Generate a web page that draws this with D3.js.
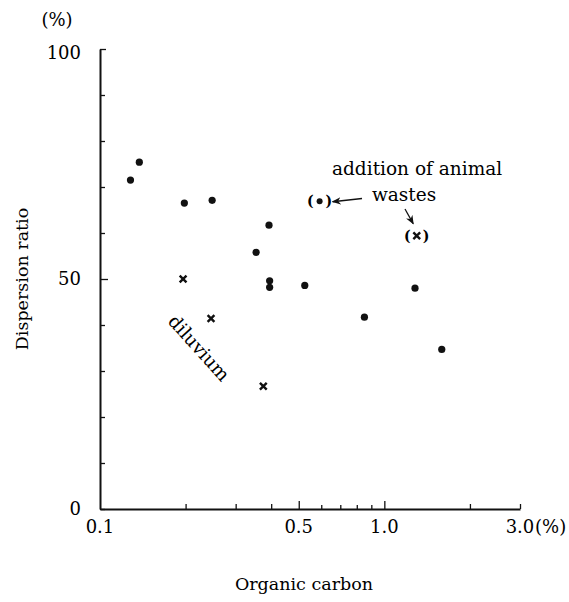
<!DOCTYPE html>
<html>
<head>
<meta charset="utf-8">
<script src="https://cdn.jsdelivr.net/npm/d3@7"></script>
<style>
  body { margin: 0; background: #fff; }
  svg text { font-family: "DejaVu Serif", serif; fill: #000; }
</style>
</head>
<body>
<div id="chart"></div>
<script>
'use strict';

// soil samples (dots)
var dotCarbon = [0.128, 0.1375, 0.198, 0.248, 0.393, 0.354, 0.395, 0.395, 0.525, 0.851, 1.282, 1.592];
var dotRatio  = [71.5, 75.4, 66.5, 67.1, 61.7, 55.8, 49.6, 48.2, 48.6, 41.7, 48.0, 34.7];

// diluvium samples (crosses)
var crossCarbon = [0.196, 0.2457, 0.3753];
var crossRatio  = [50.0, 41.4, 26.7];

// samples with animal waste added (bracketed)
var wasteCarbon = [0.592, 1.30];
var wasteRatio  = [66.9, 59.4];
var wasteKind   = ['dot', 'cross'];

var xMinorTicks = [0.2, 0.3, 0.4, 0.5, 0.6, 0.7, 0.8, 0.9, 1.0, 2.0, 3.0];
var xLabelValues = [0.1, 0.5, 1.0, 3.0];
var xLabelText   = ['0.1', '0.5', '1.0', '3.0'];
var yTickValues  = [0, 10, 20, 30, 40, 50, 60, 70, 80, 90, 100];
var yLabelValues = [0, 50, 100];

var width = 569, height = 602;

var svg = d3.select('#chart').append('svg')
  .attr('width', width)
  .attr('height', height);

svg.append('rect').attr('width', width).attr('height', height).attr('fill', '#fff');

var x = d3.scaleLog().domain([0.1, 3.0]).range([100, 520]);
var y = d3.scaleLinear().domain([0, 100]).range([509, 49]);

// tick length by value
function xTickLen(v) {
  if (v === 0.5 || v === 1.0) return 8;
  if (v < 0.5 || v >= 2.0) return 5;
  return 4;
}

var xAxis = d3.axisBottom(x).tickValues(xMinorTicks).tickFormat('').tickSizeInner(-5).tickSizeOuter(0);
var gx = svg.append('g')
  .attr('transform', 'translate(0,' + y(0) + ')')
  .call(xAxis);
gx.select('.domain').attr('stroke', '#111').attr('stroke-width', 2);
gx.selectAll('.tick line')
  .attr('stroke', '#111').attr('stroke-width', 1.3)
  .attr('y2', function(d) { return -xTickLen(d); });

var yAxis = d3.axisRight(y).tickValues(yTickValues).tickFormat('').tickSizeInner(5).tickSizeOuter(0);
var gy = svg.append('g')
  .attr('transform', 'translate(' + x(0.1) + ',0)')
  .call(yAxis);
gy.select('.domain').attr('stroke', '#111').attr('stroke-width', 2);
gy.selectAll('.tick line')
  .attr('stroke', '#111').attr('stroke-width', 1.3)
  .attr('x2', function(d) { return d === 50 ? 8 : (d === 100 ? 6 : 5); });

// tick labels
svg.append('g').selectAll('text')
  .data(yLabelValues)
  .enter().append('text')
    .attr('x', 81)
    .attr('y', function(d) { return y(d) + (d === 100 ? 10 : 6); })
    .attr('text-anchor', 'end')
    .style('font-size', '18px')
    .text(function(d) { return d; });

svg.append('text')
  .attr('x', 57).attr('y', 26)
  .attr('text-anchor', 'middle')
  .style('font-size', '18px')
  .text('(%)');

svg.append('g').selectAll('text')
  .data(xLabelValues)
  .enter().append('text')
    .attr('x', function(d) { return x(d); })
    .attr('y', 533)
    .attr('text-anchor', 'middle')
    .style('font-size', '18px')
    .text(function(d, i) { return xLabelText[i]; });

svg.append('text')
  .attr('x', x(3.0) + 15).attr('y', 533)
  .style('font-size', '18px')
  .text('(%)');

// axis titles
svg.append('text')
  .attr('x', 304).attr('y', 590)
  .attr('text-anchor', 'middle')
  .style('font-size', '17.5px')
  .text('Organic carbon');

svg.append('text')
  .attr('transform', 'translate(28,279) rotate(-90)')
  .attr('text-anchor', 'middle')
  .style('font-size', '17.5px')
  .text('Dispersion ratio');

// marks
function drawCross(g, cx, cy) {
  var s = 3.4;
  g.append('path')
    .attr('d', 'M' + (cx - s) + ',' + (cy - s) + 'L' + (cx + s) + ',' + (cy + s) +
               'M' + (cx + s) + ',' + (cy - s) + 'L' + (cx - s) + ',' + (cy + s))
    .attr('stroke', '#111').attr('stroke-width', 2.4).attr('fill', 'none');
}

var marks = svg.append('g');

marks.selectAll('circle.dot')
  .data(dotCarbon)
  .enter().append('circle')
    .attr('class', 'dot')
    .attr('cx', function(d) { return x(d); })
    .attr('cy', function(d, i) { return y(dotRatio[i]); })
    .attr('r', 3.6)
    .attr('fill', '#111');

crossCarbon.forEach(function(c, i) {
  drawCross(marks, x(c), y(crossRatio[i]));
});

wasteCarbon.forEach(function(c, i) {
  var cx = x(c), cy = y(wasteRatio[i]);
  if (wasteKind[i] === 'dot') {
    marks.append('circle').attr('cx', cx).attr('cy', cy).attr('r', 3).attr('fill', '#111');
  } else {
    drawCross(marks, cx, cy);
  }
  marks.append('text').attr('x', cx - 6).attr('y', cy + 5)
    .attr('text-anchor', 'end').style('font-size', '14px').style('font-weight', 'bold').text('(');
  marks.append('text').attr('x', cx + 6).attr('y', cy + 5)
    .attr('text-anchor', 'start').style('font-size', '14px').style('font-weight', 'bold').text(')');
});

// annotation
svg.append('defs').append('marker')
  .attr('id', 'arrow')
  .attr('viewBox', '0 0 10 10')
  .attr('refX', 9).attr('refY', 5)
  .attr('markerWidth', 7).attr('markerHeight', 7)
  .attr('orient', 'auto')
  .append('path')
    .attr('d', 'M0,1L10,5L0,9L3,5Z')
    .attr('fill', '#111');

svg.append('text')
  .attr('x', 332).attr('y', 175)
  .style('font-size', '18.5px')
  .text('addition of animal');

svg.append('text')
  .attr('x', 372).attr('y', 201)
  .style('font-size', '18.5px')
  .text('wastes');

svg.append('line')
  .attr('x1', 362).attr('y1', 198.5)
  .attr('x2', x(wasteCarbon[0]) + 13).attr('y2', y(wasteRatio[0]) + 0.5)
  .attr('stroke', '#111').attr('stroke-width', 1.3)
  .attr('marker-end', 'url(#arrow)');

svg.append('line')
  .attr('x1', 405).attr('y1', 209)
  .attr('x2', x(wasteCarbon[1]) - 3.5).attr('y2', y(wasteRatio[1]) - 12)
  .attr('stroke', '#111').attr('stroke-width', 1.3)
  .attr('marker-end', 'url(#arrow)');

svg.append('text')
  .attr('transform', 'translate(167,322) rotate(48)')
  .style('font-size', '18.5px')
  .text('diluvium');
</script>
</body>
</html>
